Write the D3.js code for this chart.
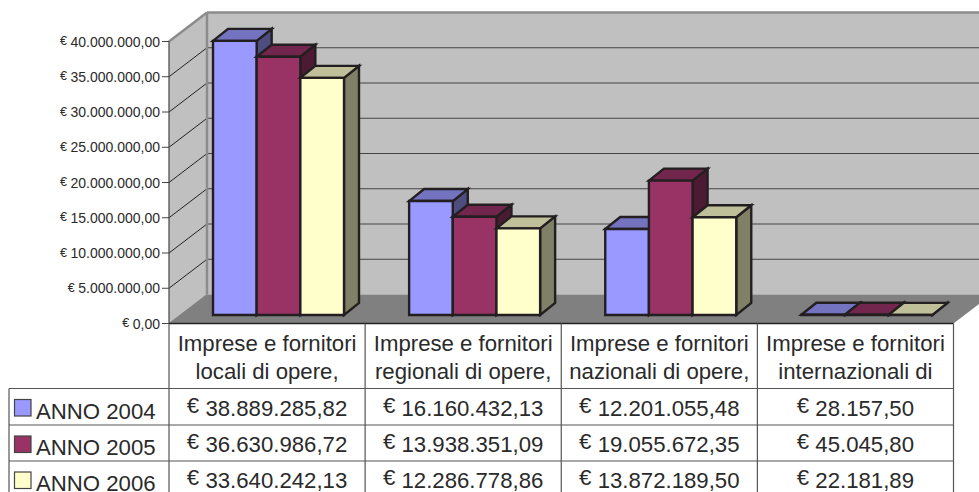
<!DOCTYPE html>
<html><head><meta charset="utf-8">
<script src="https://cdn.jsdelivr.net/npm/d3@7"></script>
<style>html,body{margin:0;background:#fff;overflow:hidden}svg{display:block}text{font-family:"Liberation Sans",Arial,sans-serif;fill:#2a2a2a}</style>
</head><body><svg id="c" width="979" height="492"></svg>
<script>
const categories=[["Imprese e fornitori","locali di opere,"],["Imprese e fornitori","regionali di opere,"],["Imprese e fornitori","nazionali di opere,"],["Imprese e fornitori","internazionali di"]];
const seriesNames=["ANNO 2004","ANNO 2005","ANNO 2006"];
const anno2004=[38889285.82,16160432.13,12201055.48,28157.50];
const anno2005=[36630986.72,13938351.09,19055672.35,45045.80];
const anno2006=[33640242.13,12286778.86,13872189.50,22181.89];
const series=[anno2004,anno2005,anno2006];
const yTicks=[0,5e6,10e6,15e6,20e6,25e6,30e6,35e6,40e6];
const faces=[{front:"#9999ff",top:"#7373bf",side:"#4d4d80"},{front:"#993366",top:"#73264d",side:"#4d1a33"},{front:"#ffffcc",top:"#bfbf99",side:"#808066"}];

const svg=d3.select("#c");
const W=979,L=169,R=953.5,Y0=323.5,Y40=41.5,DX=38,DY=-29;
const y=d3.scaleLinear().domain([0,40e6]).range([Y0,Y40]);
const x0=d3.scaleBand().domain(d3.range(categories.length)).range([L,R]);
const inner=x0.bandwidth();
const x1=d3.scaleBand().domain(d3.range(series.length)).range([44,44+131]);
const loc=d3.formatLocale({decimal:",",thousands:".",grouping:[3],currency:["€",""]});
const fmt=loc.format(",.2f");
const poly=(pts,fill,stroke,sw)=>svg.append("polygon").attr("points",pts.map(p=>p.join(",")).join(" ")).attr("fill",fill).attr("stroke",stroke||"none").attr("stroke-width",sw||0).attr("stroke-linejoin","miter");
const line=(a,b,c,d,col,sw)=>svg.append("line").attr("x1",a).attr("y1",b).attr("x2",c).attr("y2",d).attr("stroke",col).attr("stroke-width",sw);

// walls and floor
const yMax=y(40e6);
poly([[L+DX,yMax+DY],[W+2,yMax+DY],[W+2,Y0+DY],[L+DX,Y0+DY]],"#c0c0c0");
poly([[L,yMax],[L+DX,yMax+DY],[L+DX,Y0+DY],[L,Y0]],"#c0c0c0");
poly([[L,Y0],[L+DX,Y0+DY],[R+DX,Y0+DY],[R,Y0]],"#808080");
yTicks.slice(1).forEach(t=>{
  const v=y(t);
  line(L,v,L+DX,v+DY,t===40e6?"#8c8c8c":"#222",t===40e6?2.5:1);
  line(L+DX,v+DY,W,v+DY,t===40e6?"#8c8c8c":"#444",t===40e6?2.5:1.1);
});
line(L+DX,yMax+DY,L+DX,Y0+DY,"#8c8c8c",2.5);
line(L,Y0,L+DX,Y0+DY,"#808080",1);

// bars
const BY=-8.5,dX=15,dY=-12,bw=x1.bandwidth();
categories.forEach((c,i)=>{
  series.forEach((s,j)=>{
    const xa=x0(i)+x1(j), xb=xa+bw, yb=Y0+BY, yt=yb-(Y0-y(s[i]));
    const st="#231f20",sw=2.4,f=faces[j];
    poly([[xb,yt],[xb+dX,yt+dY],[xb+dX,yb+dY],[xb,yb]],f.side,st,sw);
    poly([[xa,yt],[xa+dX,yt+dY],[xb+dX,yt+dY],[xb,yt]],f.top,st,sw);
    poly([[xa,yt],[xb,yt],[xb,yb],[xa,yb]],f.front,st,sw);
  });
});

// y axis
line(L,yMax,L,Y0,"#444",1.2);
yTicks.forEach(t=>{
  const v=y(t);
  line(L-7,v,L,v,"#444",1);
  const tx=svg.append("text").attr("x",160).attr("y",v+5).attr("text-anchor","end").attr("font-size",14);
  tx.append("tspan").attr("font-size",12.5).attr("dy",-1.5).text("€");
  tx.append("tspan").attr("dy",1.5).attr("dx",3.5).text(fmt(t));
});

// table
const rows=[388.5,425,461];
const xs=x0.domain().map(d=>x0(d)).concat([R]);
const tc="#555";
line(L,Y0,R,Y0,"#222",1.4);
xs.forEach(v=>line(v,Y0,v,492,tc,1.2));
line(9,rows[0],9,492,tc,1.2);
rows.forEach(r=>line(9,r,R,r,tc,1.2));
categories.forEach((c,i)=>{
  const cx=x0(i)+inner/2;
  c.forEach((t,k)=>svg.append("text").attr("x",cx).attr("y",351+k*28).attr("text-anchor","middle").attr("font-size",22.2).text(t));
  series.forEach((s,j)=>{
    const tx=svg.append("text").attr("x",cx).attr("y",416+j*36).attr("text-anchor","middle").attr("font-size",22.2);
    tx.append("tspan").attr("dy",-3).text("€ ");
    tx.append("tspan").attr("dy",3).text(fmt(s[i]));
  });
});
seriesNames.forEach((n,j)=>{
  const r=rows[j];
  svg.append("rect").attr("x",14.5).attr("y",r+11).attr("width",16.5).attr("height",16.5).attr("fill",faces[j].front).attr("stroke","#444").attr("stroke-width",1.2);
  svg.append("text").attr("x",36).attr("y",r+30).attr("font-size",22.2).text(n);
});
</script></body></html>
